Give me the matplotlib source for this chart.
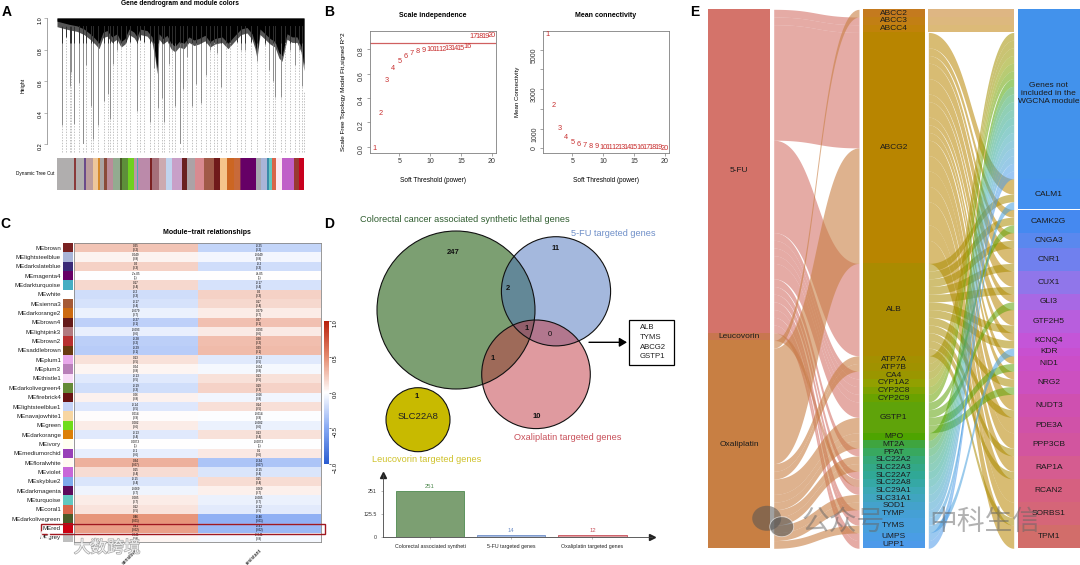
"""
Multi-panel WGCNA / Venn / Sankey figure, redrawn with matplotlib.
All positions are in pixels of the 1080x565 reference.
"""

import numpy as np
import matplotlib
matplotlib.use("Agg")
import matplotlib.pyplot as plt
import matplotlib.patheffects as pe
from matplotlib.colors import LinearSegmentedColormap
from matplotlib.patches import Circle, Ellipse, Rectangle

plt.rcParams["font.family"] = ["Liberation Sans", "DejaVu Sans"]

W, H = 1080, 565
CJK = ["Noto Sans CJK SC", "DejaVu Sans"]

# --- A: dendrogram ---
spike_x = [5.3, 9, 12.7, 14.3, 17.3, 21.7, 26, 29.3, 34, 36, 40.7, 46.7, 50.7, 52.7, 56, 60, 64, 68.7,
           73.3, 80, 83.3, 87.3, 93, 97.3, 101, 104.7, 106.7, 111.7, 115, 118.3, 123.3, 126.3, 130,
           134.7, 139.3, 143.7, 148.7, 152.7, 156.7, 160, 164, 168.7, 173.3, 180, 184, 188.3, 194,
           200, 208.3, 211.7, 216, 218, 224, 228.3, 233.3, 237.7, 241.7, 245, 246.7]
spike_low = [.32, .88, .57, .66, .33, .59, .18, .70, .44, .23, .32, .47, .52, .36, .71, .80, .83, .85,
             .85, .41, .86, .85, .34, .68, .43, .49, .34, .71, .80, .44, .18, .55, .75,
             .44, .58, .46, .64, .80, .85, .78, .56, .82, .85, .85, .80, .80, .85,
             .73, .83, .67, .60, .50, .50, .85, .80, .70, .80, .57, .53]
band_x = [0, 6, 12, 20, 27, 33, 38, 42, 46, 50, 55, 60, 64, 68, 72, 77, 80, 83, 90, 95, 98, 100, 102,
          106, 110, 114, 118, 122, 127, 132, 137, 142, 148, 153, 158, 165, 171, 178, 184, 190, 195,
          198, 200, 203, 208, 213, 218, 222, 225, 230, 235, 240, 244, 247]
band_low = [.98, .97, .96, .95, .93, .90, .87, .84, .91, .92, .88, .90, .85, .87, .93, .91, .88, .93,
            .92, .88, .78, .68, .90, .87, .89, .84, .82, .85, .84, .88, .86, .87, .89, .85, .87, .88,
            .84, .89, .93, .94, .90, .84, .78, .93, .90, .87, .85, .78, .76, .90, .88, .88, .82, .70]
module_edges = [0, 17, 19, 27, 29, 36, 41, 43, 47, 50, 56, 63, 65, 71, 77, 80, 81, 93, 95, 102, 109,
                115, 125, 130, 138, 147, 157, 163, 170, 177, 183, 184, 199, 204, 210, 212, 215, 219,
                225, 237, 242, 247]
module_colors = ["#b0aeae", "#8a3a3a", "#b0aeae", "#6a4a8a", "#bb9c9c", "#eec79a", "#d68a2a", "#aaa4a4",
                 "#8a4a3a", "#bb8c9a", "#93ab90", "#4a5a28", "#5d8f3a", "#70d020", "#bb98a8", "#4fa8b8",
                 "#bb8aaa", "#7a2222", "#a5707a", "#ccaab0", "#c0d4ee", "#c8a0c8", "#6a1f1f", "#aca2a6",
                 "#d88a90", "#a05a48", "#701a1a", "#f5c48c", "#cc6622", "#c86a3a", "#8a2a5a", "#660066",
                 "#a8a8b0", "#a9b5d8", "#3a8aa8", "#62c8c0", "#d8654a", "#fdeaf2", "#c060c8", "#983a32",
                 "#c8001e"]

# --- B: soft threshold ---
powers = list(range(1, 21))
r2_fit = [-.01, .27, .545, .645, .70, .74, .76, .78, .785, .795, .80, .80, .805, .805, .805, .82, .90, .905, .905, .915]
mean_k = [5770, 2180, 1000, 530, 310, 200, 140, 100, 70, 50, 45, 40, 35, 30, 25, 22, 20, 18, 16, 14]

# --- C: module-trait heatmap ---
modules = ["MEbrown", "MElightsteelblue", "MEdarkslateblue", "MEmagenta4", "MEdarkturquoise", "MEwhite",
           "MEsienna3", "MEdarkorange2", "MEbrown4", "MElightpink3", "MEbrown2", "MEsaddlebrown", "MEplum1",
           "MEplum3", "MEthistle1", "MEdarkolivegreen4", "MEfirebrick4", "MElightsteelblue1", "MEnavajowhite1",
           "MEgreen", "MEdarkorange", "MEivory", "MEmediumorchid", "MEfloralwhite", "MEviolet", "MEskyblue2",
           "MEdarkmagenta", "MEturquoise", "MEcoral1", "MEdarkolivegreen", "MEred", "MEgrey"]
swatches = ["#7a2222", "#a9b5d8", "#3a2a78", "#660066", "#45aec3", "#ffffff", "#a55a36", "#cc6a10",
            "#641a1a", "#b27a80", "#b83030", "#683a10", "#e8a8ea", "#b87fb8", "#f8dcf8", "#668a38",
            "#6a1414", "#c6d4f6", "#f7d6a2", "#70dc1a", "#dc8008", "#fffff0", "#9840b8", "#fffaf0",
            "#c868d8", "#7eaaec", "#5c0a5c", "#62c8c0", "#d8654a", "#4a5a28", "#cc0012", "#bebebe"]
sensitive = [.25, .049, .2, -.00007, .17, -.2, -.17, -.079, -.27, -.093, -.28, -.29, .13, .04, -.13, -.19,
             .06, -.14, .014, .082, -.13, .0073, -.1, .34, .15, -.15, -.069, .085, .12, .46, .41, .041]
p_values = [.2, .8, .3, 1, .4, .3, .4, .7, .1, .6, .2, .1, .5, .8, .5, .3,
            .8, .5, .9, .6, .4, 1, .6, .07, .4, .4, .7, .7, .5, .01, .02, .8]
traits = ["sensitive", "resistant"]

# --- D: Venn counts and bars ---
bar_labels = ["Colorectal associated syntheti", "5-FU targeted genes", "Oxaliplatin targeted genes"]
bar_values = [251, 14, 12]
bar_colors = ["#7c9f72", "#a5b9de", "#e09ba0"]
bar_text_colors = ["#4f8a4f", "#6f8fc8", "#c8505a"]
shared_genes = ["ALB", "TYMS", "ABCG2", "GSTP1"]

# --- E: Sankey, widths in units of one gene row ---
drugs = ["5-FU", "Leucovorin", "Oxaliplatin"]
drug_colors = ["#d4736a", "#c8764f", "#c87f43"]
genes = ["ABCC2", "ABCC3", "ABCC4", "ABCG2", "ALB", "ATP7A", "ATP7B", "CA4", "CYP1A2", "CYP2C8", "CYP2C9",
         "GSTP1", "MPO", "MT2A", "PPAT", "SLC22A2", "SLC22A3", "SLC22A7", "SLC22A8", "SLC29A1", "SLC31A1",
         "SOD1", "TYMP", "TYMS", "UMPS", "UPP1"]
gene_colors = ["#c47a1e", "#c27f14", "#c0820a", "#b88500", "#aa8b00", "#a49000", "#a09200", "#9a9600",
               "#92a000", "#7ea100", "#6aa200", "#5fa30a", "#4ea400", "#3fa53f", "#38a85f", "#35a878",
               "#33a888", "#30a896", "#35a8a5", "#3ca8b5", "#40a5c0", "#44a2cc", "#45a0d5", "#48a0dd",
               "#4a9de5", "#4d9aea"]
fu_genes = ["ABCC3", "ABCC4", "ABCG2", "ALB", "CA4", "CYP1A2", "CYP2C8", "CYP2C9", "GSTP1", "PPAT", "SLC22A7",
            "SLC29A1", "TYMP", "TYMS", "UMPS", "UPP1"]
fu_units = [1, 1, 15, 12, 1, 1, 1, 1, 2, 1, 1, 1, 1, 1, 1, 1]
leu_genes = ["SLC22A8"]
leu_units = [1]
oxa_genes = ["ABCC2", "ABCG2", "ATP7A", "ATP7B", "GSTP1", "MPO", "MT2A", "SLC22A2", "SLC22A3", "SLC31A1", "SOD1", "TYMS"]
oxa_units = [1, 15, 1, 1, 2, 1, 1, 1, 1, 1, 1, 1]

outside = "Genes not\nincluded in the\nWGCNA module"
targets = [outside, "CALM1", "CAMK2G", "CNGA3", "CNR1", "CUX1", "GLI3", "GTF2H5", "KCNQ4", "KDR", "NID1", "NRG2",
           "NUDT3", "PDE3A", "PPP3CB", "RAP1A", "RCAN2", "SORBS1", "TPM1"]
target_colors = ["#4292ec", "#4290f0", "#4589f0", "#5a88ee", "#7080ee", "#9076ea", "#a868e4", "#b85edd", "#c455d8",
                 "#c850d0", "#cb4ec8", "#cc50c0", "#cf50b0", "#d052a8", "#d2559f", "#d55c90", "#d66080", "#d56678",
                 "#d26d6a"]
abcg2_targets = ["CALM1", "CAMK2G", "CNGA3", "CNR1", "CUX1", "GLI3", "GTF2H5", "KCNQ4", "NID1", "NRG2", "NUDT3",
                 "PDE3A", "PPP3CB", "RAP1A", "RCAN2", "SORBS1", "TPM1"]
abcg2_units = [2, 1, 1, 2, 2, 1, 2, 1, 1, 1, 2, 2, 2, 2, 3, 2, 3]
alb_targets = ["CALM1", "CAMK2G", "CNGA3", "CNR1", "CUX1", "GTF2H5", "KCNQ4", "NRG2", "NUDT3", "PPP3CB", "RAP1A", "SORBS1"]
gstp1_targets = ["CAMK2G", "GLI3", "NID1", "NRG2"]
tyms_targets = ["CALM1", "KDR"]


def add_ax(x0, y0, x1, y1, **kw):
    return fig.add_axes([x0 / W, 1 - y1 / H, (x1 - x0) / W, (y1 - y0) / H], **kw)


def put(x, y, s, size=5, **kw):
    kw.setdefault("ha", "center")
    kw.setdefault("va", "center")
    return over.text(x, y, s, fontsize=size, **kw)


fig = plt.figure(figsize=(W / 100, H / 100), dpi=100)
over = add_ax(0, 0, W, H, zorder=10)
over.set_xlim(0, W)
over.set_ylim(H, 0)
over.axis("off")
over.patch.set_alpha(0)

for letter, lx, ly in [("A", 7, 12), ("B", 329, 12), ("C", 5, 224), ("D", 329, 224), ("E", 695, 12)]:
    put(lx, ly, letter, size=10, fontweight="bold")

# Panel A
ax = add_ax(57, 18, 304, 144)
ax.set_xlim(0, 247)
ax.set_ylim(0.2, 1.0)
ax.vlines(spike_x, 0.15, spike_low, colors="#a8a8a8", lw=0.5, linestyles=(0, (2, 2)), clip_on=False)
ax.vlines(spike_x, spike_low, 0.95, colors="#7a7a7a", lw=0.6)
# grey fringe under the black part of the tree
ax.fill_between(band_x, np.array(band_low) - 0.035, 1.0, color="#555555", lw=0)
ax.fill_between(band_x, band_low, 1.0, color="black", lw=0)
ax.vlines(spike_x, np.maximum(spike_low, 0.84), 0.95, colors="#222222", lw=0.6)
for side in ["top", "right", "bottom"]:
    ax.spines[side].set_visible(False)
ax.spines["left"].set_position(("outward", 7.2))
ax.spines["left"].set_color("#808080")
ax.spines["left"].set_linewidth(0.5)
ax.set_xticks([])
ax.set_yticks([0.2, 0.4, 0.6, 0.8, 1.0])
ax.tick_params(axis="y", labelsize=4, length=2, width=0.4, color="#808080", pad=1, labelrotation=90)
ax.patch.set_alpha(0)
put(180, 3.5, "Gene dendrogram and module colors", size=4.8, fontweight="bold")
put(23, 85, "Height", size=3.8, rotation=90)
put(54.3, 174, "Dynamic Tree Cut", size=3.4, ha="right")

ax = add_ax(57, 158, 304, 190)
ax.set_xlim(0, 247)
ax.set_ylim(0, 1)
ax.bar(module_edges[:-1], 1, width=np.diff(module_edges), align="edge", color=module_colors, lw=0)
ax.axis("off")

# Panel B
ax = add_ax(370, 31, 496, 153)
ax.set_xlim(0.22, 20.7)
ax.set_ylim(-0.05, 0.948)
ax.axhline(0.85, color="#d06060", lw=0.9)
for p, v in zip(powers, r2_fit):
    ax.text(p, v, str(p), color="#c83030", fontsize=5.3, ha="center", va="center")
ax.set_yticks([0, 0.2, 0.4, 0.6, 0.8])
ax.set_yticklabels(["0.0", "0.2", "0.4", "0.6", "0.8"])
b_left = ax

ax = add_ax(543, 31, 669, 153)
ax.set_xlim(0.22, 20.7)
ax.set_ylim(-238, 5952)
for p, v in zip(powers, mean_k):
    ax.text(p, v, str(p), color="#c83030", fontsize=5.3, ha="center", va="center")
ax.set_yticks([0, 1000, 2000, 3000, 4000, 5000])
ax.set_yticklabels(["0", "1000", "", "3000", "", "5000"])
for a in [b_left, ax]:
    a.set_xticks([5, 10, 15, 20])
    a.tick_params(labelsize=5, length=2, width=0.4, color="#606060", pad=1.5, labelcolor="#333333")
    a.tick_params(axis="y", labelrotation=90)
    for s in a.spines.values():
        s.set_color("#808080")
        s.set_linewidth(0.6)
put(433, 15.7, "Scale independence", size=5, fontweight="bold")
put(606, 15.7, "Mean connectivity", size=5, fontweight="bold")
put(433, 180, "Soft Threshold (power)", size=4.7)
put(606, 180, "Soft Threshold (power)", size=4.7)
put(343.5, 92, "Scale Free Topology Model Fit,signed R^2", size=4.6, rotation=90)
put(517, 92, "Mean Connectivity", size=4.4, rotation=90)

# Panel C
cmap = LinearSegmentedColormap.from_list(
    "blue_white_red",
    [(0, "#2a5cd0"), (0.25, "#86a9f3"), (0.5, "#ffffff"), (0.75, "#e58b6e"), (1, "#b8200c")])
values = np.column_stack([sensitive, -np.array(sensitive)])
ax = add_ax(74, 243, 321, 542)
mesh = ax.pcolormesh(values, cmap=cmap, vmin=-1, vmax=1)
ax.set_xlim(0, 2)
ax.set_ylim(len(modules), 0)
for i, (v, pv) in enumerate(zip(sensitive, p_values)):
    ax.text(0.5, i + 0.5, f"{v:.2g}\n({pv:g})", fontsize=2.2, ha="center", va="center", linespacing=1.0)
    ax.text(1.5, i + 0.5, f"{-v:.2g}\n({pv:g})", fontsize=2.2, ha="center", va="center", linespacing=1.0)
ax.set_xticks([0.5, 1.5])
ax.set_xticklabels(traits, rotation=45, ha="right", fontsize=3.8, rotation_mode="anchor")
ax.set_yticks([])
ax.tick_params(axis="x", length=0, pad=4)
for s in ax.spines.values():
    s.set_color("#888888")
    s.set_linewidth(0.6)

ax = add_ax(63, 243, 73, 542)
ax.barh(range(len(modules)), 1, height=1, color=swatches, lw=0)
ax.set_xlim(0, 1)
ax.set_ylim(len(modules) - 0.5, -0.5)
ax.set_xticks([])
ax.set_yticks(range(len(modules)))
ax.set_yticklabels(modules, fontsize=4.4, color="#222222")
ax.tick_params(axis="y", length=0, pad=1.5)
for s in ax.spines.values():
    s.set_visible(False)

cax = add_ax(324, 321, 329, 464)
cb = fig.colorbar(mesh, cax=cax, ticks=[-1, -0.5, 0, 0.5, 1])
cb.ax.tick_params(labelsize=4, length=1.5, width=0.4, pad=1, labelrotation=90)
cb.outline.set_visible(False)
put(207, 232, "Module\u2212trait relationships", size=5, fontweight="bold")
over.add_patch(Rectangle((41, 524), 284, 10, fill=False, ec="#a01820", lw=1))

# Panel D: Venn
over.add_patch(Circle((456, 310), 79, fc="#7c9f72", ec="none"))
over.add_patch(Circle((556, 291.3), 54.6, fc="#4b73bd", alpha=0.5, ec="none"))
over.add_patch(Circle((536, 374.3), 54.3, fc="#c13741", alpha=0.5, ec="none"))
over.add_patch(Circle((418, 419.7), 32, fc="#c8ba00", ec="none"))
for cx, cy, r in [(456, 310, 79), (556, 291.3, 54.6), (536, 374.3, 54.3), (418, 419.7, 32)]:
    over.add_patch(Circle((cx, cy), r, fill=False, ec="#111111", lw=0.8))
put(464.5, 220, "Colorectal cancer associated synthetic lethal genes", size=6.55, color="#2f5d2f")
put(613.7, 234, "5-FU targeted genes", size=6.55, color="#6f8fc8")
put(568, 437.7, "Oxaliplatin targeted genes", size=6.55, color="#c8505a")
put(427, 460, "Leucovorin targeted genes", size=6.55, color="#cfc22a")
for cx, cy, s, bold in [(453, 253, "247", True), (556, 249, "11", True), (508, 288, "2", True),
                        (526.7, 329, "1", True), (550, 334.7, "0", False), (492.7, 359, "1", True),
                        (536.7, 417, "10", True), (416.7, 396, "1", True)]:
    put(cx, cy, s, size=5.5, fontweight="bold" if bold else "normal", color="#111111")
put(418.3, 416.3, "SLC22A8", size=6.8, color="#222222")
over.annotate("", xy=(627, 342.3), xytext=(589, 342.3),
              arrowprops=dict(arrowstyle="-|>,head_length=0.5,head_width=0.3", mutation_scale=9,
                              color="black", lw=1, shrinkA=0, shrinkB=0))
over.add_patch(Rectangle((628.7, 320), 45.6, 45, fc="white", ec="black", lw=0.9))
for gene, gy in zip(shared_genes, [327.7, 337.3, 347.3, 356.7]):
    put(640, gy, gene, size=5.6, ha="left", color="#222222")

# Panel D: bars
ax = add_ax(382.7, 475, 651.7, 537.3)
ax.set_xlim(-0.582, 2.729)
ax.set_ylim(0, 340)
bars = ax.bar(range(3), bar_values, width=0.84, color=bar_colors, edgecolor=bar_text_colors, lw=0.6)
for i, v in enumerate(bar_values):
    ax.text(i, v + 10, str(v), ha="center", va="bottom", fontsize=4.2, color=bar_text_colors[i])
ax.set_xticks(range(3))
ax.set_xticklabels(bar_labels, fontsize=3.8, color="#222222")
ax.set_yticks([0, 125.5, 251])
ax.set_yticklabels(["0", "125.5", "251"], fontsize=3.8, color="#333333")
ax.tick_params(length=1.5, width=0.4, color="#888888", pad=3)
for side in ["top", "right"]:
    ax.spines[side].set_visible(False)
for side in ["left", "bottom"]:
    ax.spines[side].set_color("#444444")
    ax.spines[side].set_linewidth(0.6)
ax.patch.set_alpha(0)
ax.plot(1, 0, ">", transform=ax.transAxes, clip_on=False, ms=4.2, color="#222222")
ax.plot(0, 1, "^", transform=ax.transAxes, clip_on=False, ms=4.2, color="#222222")


# Panel E: Sankey
def ribbons(ax, links, left_nodes, right_nodes, x0, x1, colors, alpha):
    """Stack each link on both of its nodes, then fill the curved band between them."""
    lorder = {n: i for i, n in enumerate(left_nodes)}
    rorder = {n: i for i, n in enumerate(right_nodes)}
    by_left = sorted(links, key=lambda l: (lorder[l[0]], rorder[l[1]]))
    by_right = sorted(links, key=lambda l: (rorder[l[1]], lorder[l[0]]))
    lpos, rpos = {}, {}
    y = 0
    for l in by_left:
        lpos[l[:2]] = y
        y += l[2]
    y = 0
    for l in by_right:
        rpos[l[:2]] = y
        y += l[2]
    t = np.linspace(0, 1, 60)
    xm = (x0 + x1) / 2
    xs = x0 * (1 - t) ** 3 + 3 * xm * (1 - t) ** 2 * t + 3 * xm * (1 - t) * t ** 2 + x1 * t ** 3
    s = 3 * (1 - t) * t ** 2 + t ** 3
    for l in by_left:
        y0, y1 = lpos[l[:2]], rpos[l[:2]]
        ax.fill_between(xs, y0 + (y1 - y0) * s, y0 + l[2] + (y1 - y0) * s,
                        color=colors[lorder[l[0]]], alpha=alpha, lw=0)


def node_column(ax, nodes, links, key, x0, x1, colors, size=6):
    y = 0
    for name, color in zip(nodes, colors):
        units = sum(l[2] for l in links if l[key] == name)
        ax.bar(x0, units, bottom=y, width=x1 - x0, align="edge", color=color, lw=0)
        ax.text((x0 + x1) / 2, y + units / 2, name, ha="center", va="center", fontsize=size,
                color="#1c1c1c", linespacing=1.2)
        y += units


left_links = [("5-FU", g, u) for g, u in zip(fu_genes, fu_units)]
left_links += [("Leucovorin", g, u) for g, u in zip(leu_genes, leu_units)]
left_links += [("Oxaliplatin", g, u) for g, u in zip(oxa_genes, oxa_units)]

right_links = [("ABCG2", t, u) for t, u in zip(abcg2_targets, abcg2_units)]
right_links += [("ALB", t, 1) for t in alb_targets]
right_links += [("GSTP1", t, 1) for t in gstp1_targets]
right_links += [("TYMS", t, 1) for t in tyms_targets]
right_links += [(g, outside, 1) for g in genes if g not in shared_genes]

ax = add_ax(700, 9.3, 1080, 548.3)
ax.set_xlim(700, 1080)
ax.set_ylim(70, 0)
ax.axis("off")
ribbons(ax, left_links, drugs, genes, 773.7, 859, drug_colors, 0.6)
ribbons(ax, right_links, genes, targets, 928.3, 1013.7, gene_colors, 0.55)
node_column(ax, drugs, left_links, 0, 708, 770, drug_colors)
node_column(ax, genes, left_links, 1, 862.7, 925, gene_colors)
node_column(ax, targets, right_links, 1, 1017.7, 1079.7, target_colors)

# watermarks
put(107, 548, "大数跨境", size=12, family=CJK, color="white", alpha=0.85,
    path_effects=[pe.withStroke(linewidth=1, foreground="#999999")])
for ex, ey, er in [(21, 546, 10), (34, 537, 5), (45, 535, 4)]:
    over.add_patch(Circle((ex, ey), er, fill=False, ec="white", lw=1.6, alpha=0.85))
over.add_patch(Ellipse((766.7, 518.3), 29, 25, fc="#555555", alpha=0.55, ec="none"))
over.add_patch(Ellipse((781.7, 526.7), 24, 20, fc="#555555", alpha=0.6, ec="white", lw=0.6))
put(843, 521.7, "公众号", size=20, family=CJK, color="#666666", alpha=0.5)
put(985, 521.7, "中科生信", size=20, family=CJK, color="#666666", alpha=0.5)

fig.savefig("out.png", dpi=100)
